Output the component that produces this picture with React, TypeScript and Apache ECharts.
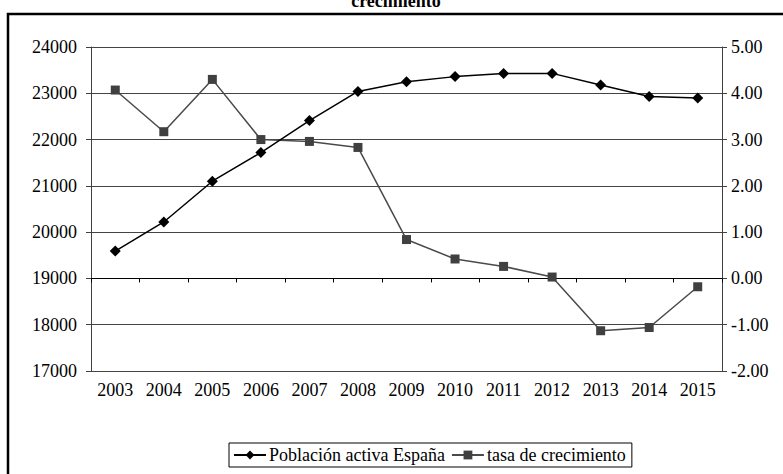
import React, { useEffect, useRef } from "react";
import * as echarts from "echarts";

const years = ["2003", "2004", "2005", "2006", "2007", "2008", "2009", "2010", "2011", "2012", "2013", "2014", "2015"];
const poblacion = [19590, 20220, 21100, 21720, 22410, 23040, 23250, 23360, 23430, 23430, 23180, 22930, 22900];
const tasa = [4.07, 3.17, 4.30, 3.00, 2.96, 2.83, 0.84, 0.42, 0.26, 0.03, -1.13, -1.06, -0.18];
const leftTicks = { min: 17000, max: 24000, interval: 1000 };
const rightTicks = { min: -2, max: 5, interval: 1 };
const seriesNames = ["Población activa España", "tasa de crecimiento"];
const titleText = "crecimiento";

const FONT = "Liberation Serif";

export default function App() {
  const ref = useRef<HTMLDivElement>(null);
  useEffect(() => {
    if (!ref.current) return;
    const chart = echarts.init(ref.current, null, { renderer: "svg" });
    chart.setOption({
      animation: false,
      backgroundColor: "#ffffff",
      textStyle: { fontFamily: FONT },
      graphic: [
        {
          type: "rect",
          shape: { x: 8, y: 14, width: 900, height: 600 },
          style: { fill: "none", stroke: "#000", lineWidth: 2.5 },
          silent: true,
        },
        {
          type: "text",
          style: {
            x: 396,
            y: 10,
            text: titleText,
            align: "center",
            verticalAlign: "bottom",
            fill: "#000",
            fontFamily: FONT,
            fontSize: 18,
            fontWeight: "bold",
          },
        },
      ],
      grid: { left: 91, right: 61, top: 47, bottom: 103, containLabel: false },
      legend: {
        left: 229,
        top: 443,
        width: 400,
        padding: [3, 6, 3, 4],
        borderColor: "#000",
        borderWidth: 1,
        itemWidth: 32,
        itemHeight: 11,
        itemGap: 6,
        textStyle: { fontFamily: FONT, fontSize: 18, color: "#000", padding: [0, 0, 0, -2] },
        data: seriesNames,
      },
      xAxis: {
        type: "category",
        data: years,
        boundaryGap: true,
        axisLine: { lineStyle: { color: "#000", width: 1 } },
        axisTick: { show: true, alignWithLabel: false, length: 4, lineStyle: { color: "#000" } },
        axisLabel: { color: "#000", fontSize: 18, fontFamily: FONT, margin: 10 },
        splitLine: { show: false },
      },
      yAxis: [
        {
          type: "value",
          position: "left",
          min: leftTicks.min,
          max: leftTicks.max,
          interval: leftTicks.interval,
          axisLine: { show: true, lineStyle: { color: "#404040", width: 1 } },
          axisTick: { show: true, inside: false, length: 5, lineStyle: { color: "#404040" } },
          axisLabel: {
            color: "#000",
            fontSize: 18,
            fontFamily: FONT,
            margin: 14,
            formatter: (v: number) => String(v),
          },
          splitLine: { show: true, lineStyle: { color: "#444", width: 1 } },
        },
        {
          type: "value",
          position: "right",
          min: rightTicks.min,
          max: rightTicks.max,
          interval: rightTicks.interval,
          axisLine: { show: true, lineStyle: { color: "#404040", width: 1 } },
          axisTick: { show: true, inside: false, length: 5, lineStyle: { color: "#404040" } },
          axisLabel: {
            color: "#000",
            fontSize: 18,
            fontFamily: FONT,
            margin: 9,
            formatter: (v: number) => v.toFixed(2),
          },
          splitLine: { show: false },
        },
      ],
      series: [
        {
          name: seriesNames[0],
          type: "line",
          yAxisIndex: 0,
          data: poblacion,
          symbol: "diamond",
          symbolSize: 11,
          lineStyle: { color: "#000", width: 1.5 },
          itemStyle: { color: "#000" },
          z: 3,
        },
        {
          name: seriesNames[1],
          type: "line",
          yAxisIndex: 1,
          data: tasa,
          symbol: "rect",
          symbolSize: 9,
          lineStyle: { color: "#4a4a4a", width: 1.5 },
          itemStyle: { color: "#404040" },
          z: 2,
        },
      ],
    });
    return () => chart.dispose();
  }, []);
  return (
    <div
      ref={ref}
      style={{ position: "absolute", left: 0, top: 0, width: 783, height: 474, background: "#fff" }}
    />
  );
}
